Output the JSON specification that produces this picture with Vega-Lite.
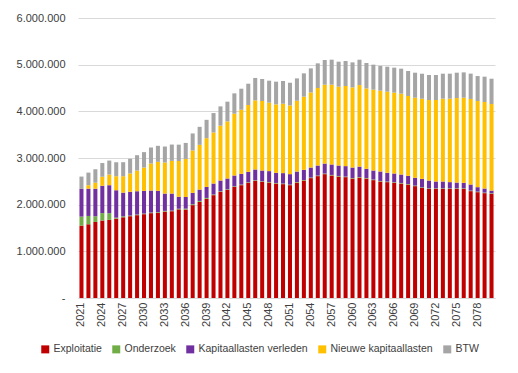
{
  "$schema": "https://vega.github.io/schema/vega-lite/v6.json",
  "width": 417,
  "height": 280,
  "autosize": "none",
  "padding": {"left": 78, "top": 18, "right": 23, "bottom": 75},
  "background": "white",
  "config": {"view": {"stroke": null}, "font": "Liberation Sans"},
  "data": {"values": [
    {"jaar": 2021, "Exploitatie": 1551000, "Onderzoek": 193000, "Kapitaallasten verleden": 594000, "Nieuwe kapitaallasten": 0, "BTW": 264000},
    {"jaar": 2022, "Exploitatie": 1580000, "Onderzoek": 178000, "Kapitaallasten verleden": 586000, "Nieuwe kapitaallasten": 73000, "BTW": 270000},
    {"jaar": 2023, "Exploitatie": 1630000, "Onderzoek": 122000, "Kapitaallasten verleden": 590000, "Nieuwe kapitaallasten": 129000, "BTW": 288000},
    {"jaar": 2024, "Exploitatie": 1660000, "Onderzoek": 159000, "Kapitaallasten verleden": 586000, "Nieuwe kapitaallasten": 193000, "BTW": 294000},
    {"jaar": 2025, "Exploitatie": 1674000, "Onderzoek": 143000, "Kapitaallasten verleden": 600000, "Nieuwe kapitaallasten": 228000, "BTW": 300000},
    {"jaar": 2026, "Exploitatie": 1700000, "Onderzoek": 21000, "Kapitaallasten verleden": 588000, "Nieuwe kapitaallasten": 300000, "BTW": 300000},
    {"jaar": 2027, "Exploitatie": 1730000, "Onderzoek": 21000, "Kapitaallasten verleden": 507000, "Nieuwe kapitaallasten": 352000, "BTW": 300000},
    {"jaar": 2028, "Exploitatie": 1753000, "Onderzoek": 13000, "Kapitaallasten verleden": 509000, "Nieuwe kapitaallasten": 393000, "BTW": 315000},
    {"jaar": 2029, "Exploitatie": 1775000, "Onderzoek": 13000, "Kapitaallasten verleden": 500000, "Nieuwe kapitaallasten": 442000, "BTW": 330000},
    {"jaar": 2030, "Exploitatie": 1796000, "Onderzoek": 13000, "Kapitaallasten verleden": 487000, "Nieuwe kapitaallasten": 500000, "BTW": 330000},
    {"jaar": 2031, "Exploitatie": 1818000, "Onderzoek": 13000, "Kapitaallasten verleden": 472000, "Nieuwe kapitaallasten": 579000, "BTW": 343000},
    {"jaar": 2032, "Exploitatie": 1824000, "Onderzoek": 15000, "Kapitaallasten verleden": 457000, "Nieuwe kapitaallasten": 622000, "BTW": 343000},
    {"jaar": 2033, "Exploitatie": 1852000, "Onderzoek": 15000, "Kapitaallasten verleden": 371000, "Nieuwe kapitaallasten": 665000, "BTW": 343000},
    {"jaar": 2034, "Exploitatie": 1860000, "Onderzoek": 13000, "Kapitaallasten verleden": 365000, "Nieuwe kapitaallasten": 700000, "BTW": 350000},
    {"jaar": 2035, "Exploitatie": 1900000, "Onderzoek": 13000, "Kapitaallasten verleden": 257000, "Nieuwe kapitaallasten": 766000, "BTW": 350000},
    {"jaar": 2036, "Exploitatie": 1895000, "Onderzoek": 20000, "Kapitaallasten verleden": 250000, "Nieuwe kapitaallasten": 815000, "BTW": 343000},
    {"jaar": 2037, "Exploitatie": 1990000, "Onderzoek": 20000, "Kapitaallasten verleden": 243000, "Nieuwe kapitaallasten": 908000, "BTW": 365000},
    {"jaar": 2038, "Exploitatie": 2060000, "Onderzoek": 20000, "Kapitaallasten verleden": 243000, "Nieuwe kapitaallasten": 959000, "BTW": 386000},
    {"jaar": 2039, "Exploitatie": 2124000, "Onderzoek": 20000, "Kapitaallasten verleden": 236000, "Nieuwe kapitaallasten": 1045000, "BTW": 393000},
    {"jaar": 2040, "Exploitatie": 2204000, "Onderzoek": 13000, "Kapitaallasten verleden": 236000, "Nieuwe kapitaallasten": 1094000, "BTW": 416000},
    {"jaar": 2041, "Exploitatie": 2275000, "Onderzoek": 12000, "Kapitaallasten verleden": 231000, "Nieuwe kapitaallasten": 1174000, "BTW": 414000},
    {"jaar": 2042, "Exploitatie": 2318000, "Onderzoek": 12000, "Kapitaallasten verleden": 231000, "Nieuwe kapitaallasten": 1223000, "BTW": 423000},
    {"jaar": 2043, "Exploitatie": 2382000, "Onderzoek": 12000, "Kapitaallasten verleden": 231000, "Nieuwe kapitaallasten": 1324000, "BTW": 436000},
    {"jaar": 2044, "Exploitatie": 2418000, "Onderzoek": 12000, "Kapitaallasten verleden": 231000, "Nieuwe kapitaallasten": 1373000, "BTW": 451000},
    {"jaar": 2045, "Exploitatie": 2468000, "Onderzoek": 12000, "Kapitaallasten verleden": 224000, "Nieuwe kapitaallasten": 1431000, "BTW": 457000},
    {"jaar": 2046, "Exploitatie": 2511000, "Onderzoek": 12000, "Kapitaallasten verleden": 231000, "Nieuwe kapitaallasten": 1481000, "BTW": 480000},
    {"jaar": 2047, "Exploitatie": 2489000, "Onderzoek": 12000, "Kapitaallasten verleden": 231000, "Nieuwe kapitaallasten": 1489000, "BTW": 472000},
    {"jaar": 2048, "Exploitatie": 2474000, "Onderzoek": 12000, "Kapitaallasten verleden": 233000, "Nieuwe kapitaallasten": 1466000, "BTW": 472000},
    {"jaar": 2049, "Exploitatie": 2453000, "Onderzoek": 12000, "Kapitaallasten verleden": 218000, "Nieuwe kapitaallasten": 1466000, "BTW": 487000},
    {"jaar": 2050, "Exploitatie": 2440000, "Onderzoek": 12000, "Kapitaallasten verleden": 224000, "Nieuwe kapitaallasten": 1487000, "BTW": 487000},
    {"jaar": 2051, "Exploitatie": 2418000, "Onderzoek": 12000, "Kapitaallasten verleden": 224000, "Nieuwe kapitaallasten": 1472000, "BTW": 487000},
    {"jaar": 2052, "Exploitatie": 2474000, "Onderzoek": 12000, "Kapitaallasten verleden": 224000, "Nieuwe kapitaallasten": 1517000, "BTW": 479000},
    {"jaar": 2053, "Exploitatie": 2517000, "Onderzoek": 12000, "Kapitaallasten verleden": 218000, "Nieuwe kapitaallasten": 1567000, "BTW": 500000},
    {"jaar": 2054, "Exploitatie": 2569000, "Onderzoek": 12000, "Kapitaallasten verleden": 215000, "Nieuwe kapitaallasten": 1609000, "BTW": 515000},
    {"jaar": 2055, "Exploitatie": 2612000, "Onderzoek": 12000, "Kapitaallasten verleden": 215000, "Nieuwe kapitaallasten": 1661000, "BTW": 528000},
    {"jaar": 2056, "Exploitatie": 2654000, "Onderzoek": 12000, "Kapitaallasten verleden": 215000, "Nieuwe kapitaallasten": 1689000, "BTW": 530000},
    {"jaar": 2057, "Exploitatie": 2625000, "Onderzoek": 12000, "Kapitaallasten verleden": 224000, "Nieuwe kapitaallasten": 1710000, "BTW": 536000},
    {"jaar": 2058, "Exploitatie": 2603000, "Onderzoek": 12000, "Kapitaallasten verleden": 224000, "Nieuwe kapitaallasten": 1689000, "BTW": 536000},
    {"jaar": 2059, "Exploitatie": 2590000, "Onderzoek": 12000, "Kapitaallasten verleden": 224000, "Nieuwe kapitaallasten": 1717000, "BTW": 536000},
    {"jaar": 2060, "Exploitatie": 2560000, "Onderzoek": 12000, "Kapitaallasten verleden": 224000, "Nieuwe kapitaallasten": 1717000, "BTW": 536000},
    {"jaar": 2061, "Exploitatie": 2580000, "Onderzoek": 12000, "Kapitaallasten verleden": 224000, "Nieuwe kapitaallasten": 1747000, "BTW": 543000},
    {"jaar": 2062, "Exploitatie": 2560000, "Onderzoek": 12000, "Kapitaallasten verleden": 196000, "Nieuwe kapitaallasten": 1723000, "BTW": 545000},
    {"jaar": 2063, "Exploitatie": 2526000, "Onderzoek": 12000, "Kapitaallasten verleden": 194000, "Nieuwe kapitaallasten": 1732000, "BTW": 536000},
    {"jaar": 2064, "Exploitatie": 2496000, "Onderzoek": 12000, "Kapitaallasten verleden": 203000, "Nieuwe kapitaallasten": 1732000, "BTW": 530000},
    {"jaar": 2065, "Exploitatie": 2483000, "Onderzoek": 12000, "Kapitaallasten verleden": 188000, "Nieuwe kapitaallasten": 1738000, "BTW": 536000},
    {"jaar": 2066, "Exploitatie": 2468000, "Onderzoek": 12000, "Kapitaallasten verleden": 188000, "Nieuwe kapitaallasten": 1732000, "BTW": 536000},
    {"jaar": 2067, "Exploitatie": 2453000, "Onderzoek": 12000, "Kapitaallasten verleden": 181000, "Nieuwe kapitaallasten": 1732000, "BTW": 536000},
    {"jaar": 2068, "Exploitatie": 2431000, "Onderzoek": 12000, "Kapitaallasten verleden": 175000, "Nieuwe kapitaallasten": 1710000, "BTW": 536000},
    {"jaar": 2069, "Exploitatie": 2397000, "Onderzoek": 12000, "Kapitaallasten verleden": 166000, "Nieuwe kapitaallasten": 1717000, "BTW": 536000},
    {"jaar": 2070, "Exploitatie": 2360000, "Onderzoek": 12000, "Kapitaallasten verleden": 181000, "Nieuwe kapitaallasten": 1717000, "BTW": 536000},
    {"jaar": 2071, "Exploitatie": 2339000, "Onderzoek": 12000, "Kapitaallasten verleden": 166000, "Nieuwe kapitaallasten": 1725000, "BTW": 536000},
    {"jaar": 2072, "Exploitatie": 2339000, "Onderzoek": 12000, "Kapitaallasten verleden": 145000, "Nieuwe kapitaallasten": 1747000, "BTW": 536000},
    {"jaar": 2073, "Exploitatie": 2339000, "Onderzoek": 12000, "Kapitaallasten verleden": 145000, "Nieuwe kapitaallasten": 1775000, "BTW": 536000},
    {"jaar": 2074, "Exploitatie": 2339000, "Onderzoek": 12000, "Kapitaallasten verleden": 132000, "Nieuwe kapitaallasten": 1788000, "BTW": 536000},
    {"jaar": 2075, "Exploitatie": 2339000, "Onderzoek": 12000, "Kapitaallasten verleden": 123000, "Nieuwe kapitaallasten": 1811000, "BTW": 543000},
    {"jaar": 2076, "Exploitatie": 2339000, "Onderzoek": 12000, "Kapitaallasten verleden": 117000, "Nieuwe kapitaallasten": 1824000, "BTW": 543000},
    {"jaar": 2077, "Exploitatie": 2290000, "Onderzoek": 12000, "Kapitaallasten verleden": 130000, "Nieuwe kapitaallasten": 1833000, "BTW": 543000},
    {"jaar": 2078, "Exploitatie": 2268000, "Onderzoek": 12000, "Kapitaallasten verleden": 95000, "Nieuwe kapitaallasten": 1845000, "BTW": 536000},
    {"jaar": 2079, "Exploitatie": 2247000, "Onderzoek": 12000, "Kapitaallasten verleden": 87000, "Nieuwe kapitaallasten": 1854000, "BTW": 543000},
    {"jaar": 2080, "Exploitatie": 2232000, "Onderzoek": 12000, "Kapitaallasten verleden": 58000, "Nieuwe kapitaallasten": 1854000, "BTW": 543000}
  ]},
  "transform": [
    {"fold": ["Exploitatie", "Onderzoek", "Kapitaallasten verleden", "Nieuwe kapitaallasten", "BTW"], "as": ["categorie", "waarde"]},
    {"lookup": "categorie", "from": {"data": {"values": [
      {"categorie": "Exploitatie", "rang": 1},
      {"categorie": "Onderzoek", "rang": 2},
      {"categorie": "Kapitaallasten verleden", "rang": 3},
      {"categorie": "Nieuwe kapitaallasten", "rang": 4},
      {"categorie": "BTW", "rang": 5}
    ]}, "key": "categorie", "fields": ["rang"]}}
  ],
  "mark": {"type": "bar"},
  "encoding": {
    "x": {
      "field": "jaar", "type": "ordinal",
      "scale": {"paddingInner": 0.42, "paddingOuter": 0.21},
      "axis": {
        "title": null,
        "values": [2021, 2024, 2027, 2030, 2033, 2036, 2039, 2042, 2045, 2048, 2051, 2054, 2057, 2060, 2063, 2066, 2069, 2072, 2075, 2078],
        "labelAngle": -90, "ticks": false, "domainColor": "#D9D9D9", "domainWidth": 1,
        "labelFontSize": 11, "labelColor": "#404040", "labelPadding": 4, "labelFont": "Liberation Sans"
      }
    },
    "y": {
      "field": "waarde", "type": "quantitative", "stack": "zero",
      "scale": {"domain": [0, 6000000]},
      "axis": {
        "title": null,
        "values": [0, 1000000, 2000000, 3000000, 4000000, 5000000, 6000000],
        "grid": true, "gridColor": "#D9D9D9", "domain": false, "ticks": false,
        "labelFontSize": 11, "labelColor": "#404040", "labelPadding": 13, "labelFont": "Liberation Sans",
        "labelExpr": "datum.value == 0 ? '-\u00a0\u00a0' : replace(format(datum.value, ',d'), regexp(',', 'g'), '.')"
      }
    },
    "color": {
      "field": "categorie", "type": "nominal",
      "scale": {
        "domain": ["Exploitatie", "Onderzoek", "Kapitaallasten verleden", "Nieuwe kapitaallasten", "BTW"],
        "range": ["#C00000", "#70AD47", "#7030A0", "#FFC000", "#A5A5A5"]
      },
      "legend": {
        "title": null, "orient": "none", "direction": "horizontal",
        "legendX": -38, "legendY": 326,
        "symbolType": "square", "symbolSize": 64, "symbolStrokeWidth": 0,
        "labelFontSize": 10.5, "labelColor": "#404040", "labelFont": "Liberation Sans",
        "labelOffset": 3, "columnPadding": 9
      }
    },
    "order": {"field": "rang", "type": "quantitative", "sort": "ascending"}
  }
}
